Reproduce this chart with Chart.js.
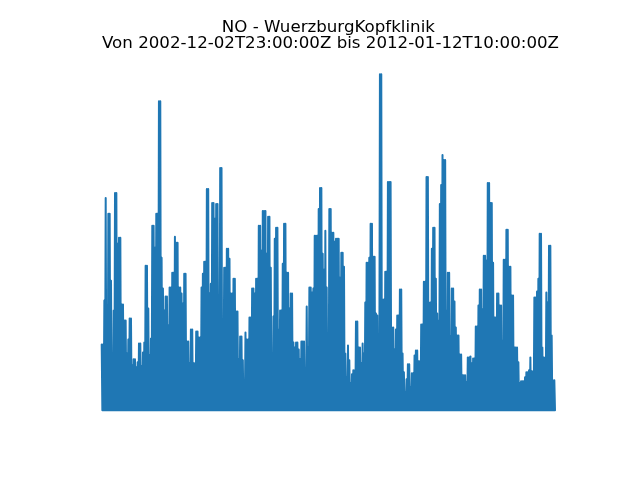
<!DOCTYPE html>
<html><head><meta charset="utf-8">
<script src="https://cdn.jsdelivr.net/npm/chart.js@4"></script>
<style>html,body{margin:0;padding:0;background:#fff}canvas{display:block}</style>
</head><body><canvas id="c" width="640" height="480"></canvas>
<script>
const titleLines = ["NO - WuerzburgKopfklinik", "Von 2002-12-02T23:00:00Z bis 2012-01-12T10:00:00Z"];
const noFirstPart = [
66,66,110,213,98,197,197,130,50,100,218,218,167,173,173,106,106,90,90,57,71,92,92,45,51,51,43,48,67,67,44,58,68,145,145,102,55,72,185,185,163,197,197,310,310,153,122,100,114,114,85,123,123,138,138,174,168,168,123,123,117,107,137,137,69,69,47,81,81,47,47,79,79,73,73,123,137,149,149,222,222,117,127,208,208,192,207,207,115,243,243,87,143,143,162,162,152,117,117,132,132,99,99,51,74,74,50,30,78,71,71,93,93,122,122,117,132,132,185,185,160,200,200,200,157,194,194,143,57,94,172,183,183,81,100,100,147,187,187,138,138,102,117,117,68,63,68,68,61,51,69,69,69,37,104,63,123,123,118,122,175,175,175,202
];
const noSecondPart = [
223,223,157,141,180,123,72,202,202,178,178,169,172,172,172,133,158,158,144,57,33,65,50,27,36,40,40,89,89,63,63,47,67,57,108,148,148,153,187,187,154,154,97,95,57,337,337,111,111,139,139,229,229,229,83,83,61,81,95,95,121,121,57,38,18,31,46,46,23,37,37,55,60,60,49,49,86,86,129,129,234,234,108,108,162,183,183,132,97,90,207,226,256,251,251,100,138,138,74,122,122,109,83,75,75,56,56,35,35,35,28,53,53,54,47,52,52,84,84,105,121,121,101,155,155,150,228,228,208,208,148,93,93,117,117,105,105,70,151,151,181,181,144,144,115,115,63,63,63,48,27,29,29,29,33,38,38,40,53,39,39,113,113,119,132,177,177,63,53,53,118,108,165,165,75,30,30
];
const noFloor = [0];
const noPeaks = noFirstPart.concat(noSecondPart);
const noSeries = noPeaks.flatMap(v => [v, noFloor[0]]);
const sampleLabels = noSeries.map((_, i) => String(i));

const widenSecondLine = {
  id: 'widenSecondLine',
  afterLayout(chart) {
    const box = chart.boxes.find(b => b.options && b.options.text === titleLines[1]);
    if (!box || box._widened) return;
    box._widened = true;
    box.left = 60; box.right = 601;
  }
};

new Chart(document.getElementById('c'), {
  type: 'line',
  data: { labels: sampleLabels, datasets: [{
    data: noSeries, borderColor: '#1f77b4', borderWidth: 2, pointRadius: 0,
    tension: 0, fill: false, clip: false, borderJoinStyle: 'round', borderCapStyle: 'round',
    borderDash: [1000000, 1]
  }]},
  plugins: [widenSecondLine],
  options: {
    responsive: false, animation: false, events: [],
    layout: { padding: { left: 101.7, right: 85, top: 19, bottom: 69.8 } },
    scales: {
      x: { display: false, offset: false },
      y: { display: false, min: 0, max: 336 }
    },
    plugins: {
      legend: { display: false }, tooltip: { enabled: false },
      title: { display: true, text: titleLines[0], color: '#000',
        font: { family: 'DejaVu Sans', size: 16.67, weight: 'normal', lineHeight: 1.0 },
        padding: { top: 0, bottom: 0 } },
      subtitle: { display: true, text: titleLines[1], color: '#000',
        font: { family: 'DejaVu Sans', size: 16.67, weight: 'normal', lineHeight: 1.0 },
        padding: { top: 0, bottom: 23 } }
    }
  }
});
</script></body></html>
